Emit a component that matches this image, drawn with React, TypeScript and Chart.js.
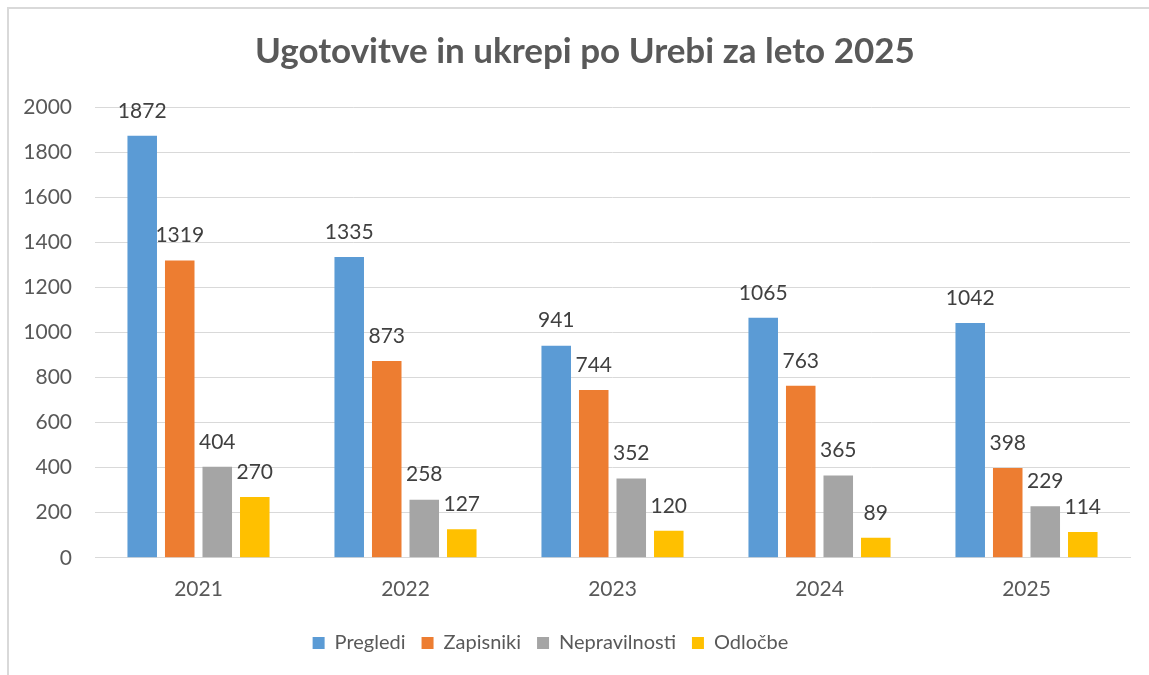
import React, { useEffect, useRef } from "react";
import { Chart, registerables } from "chart.js";

Chart.register(...registerables);

const TITLE = "Ugotovitve in ukrepi po Urebi za leto 2025";
const categories = ["2021", "2022", "2023", "2024", "2025"];
const seriesNames = ["Pregledi", "Zapisniki", "Nepravilnosti", "Odločbe"];
const pregledi = [1872, 1335, 941, 1065, 1042];
const zapisniki = [1319, 873, 744, 763, 398];
const nepravilnosti = [404, 258, 352, 365, 229];
const odlocbe = [270, 127, 120, 89, 114];
const colors = ["#5B9BD5", "#ED7D31", "#A5A5A5", "#FFC000"];
const yTicks = { min: 0, max: 2000, step: 200 };

const FONT = "Lato, 'Open Sans', sans-serif";
const CW = 1156;
const CH = 700;

const borderPlugin = {
  id: "frame",
  beforeDraw(chart: any) {
    const ctx = chart.ctx;
    ctx.save();
    ctx.fillStyle = "#FFFFFF";
    ctx.fillRect(0, 0, chart.width, chart.height);
    ctx.strokeStyle = "#D9D9D9";
    ctx.lineWidth = 2;
    ctx.strokeRect(1, 1, chart.width + 20, chart.height + 20);
    ctx.restore();
  },
};

const labelPlugin = {
  id: "valueLabels",
  afterDatasetsDraw(chart: any) {
    const ctx = chart.ctx;
    ctx.save();
    ctx.font = `21px ${FONT}`;
    ctx.fillStyle = "#404040";
    ctx.textAlign = "center";
    ctx.textBaseline = "middle";
    chart.data.datasets.forEach((ds: any, i: number) => {
      const meta = chart.getDatasetMeta(i);
      meta.data.forEach((el: any, j: number) => {
        ctx.fillText(String(ds.data[j]), el.x, el.y - 25);
      });
    });
    ctx.restore();
  },
};

const boxShift = {
  id: "boxShift",
  afterLayout(chart: any) {
    const lg = chart.legend;
    if (lg) {
      lg.left -= 18;
      lg.right -= 18;
      lg.top += 4;
      lg.bottom += 4;
    }
    const tb = chart.titleBlock;
    if (tb) {
      tb.left += 16.5;
      tb.right += 16.5;
    }
  },
};

export default function App() {
  const ref = useRef<HTMLCanvasElement>(null);
  useEffect(() => {
    if (!ref.current) return;
    const seriesData = [pregledi, zapisniki, nepravilnosti, odlocbe];
    const chart = new Chart(ref.current, {
      type: "bar",
      data: {
        labels: categories,
        datasets: seriesNames.map((name, i) => ({
          label: name,
          data: seriesData[i],
          backgroundColor: colors[i],
          borderWidth: 0,
          categoryPercentage: 0.725,
          barPercentage: 0.787,
        })),
      },
      options: {
        responsive: false,
        animation: false,
        layout: { padding: { left: 0, right: 33, top: 0, bottom: 48 } },
        plugins: {
          title: {
            display: true,
            text: TITLE,
            color: "#595959",
            font: { family: FONT, size: 35, weight: "bold", lineHeight: 1.2 },
            padding: { top: 24, bottom: 34 },
          },
          legend: {
            position: "bottom",
            labels: {
              color: "#595959",
              font: { family: FONT, size: 20 },
              boxWidth: 12,
              boxHeight: 12,
              padding: 16,
            },
          },
          tooltip: { enabled: false },
        },
        scales: {
          x: {
            grid: { display: false },
            border: { display: true, color: "#D9D9D9", width: 1 },
            ticks: {
              color: "#595959",
              font: { family: FONT, size: 21 },
              padding: 11,
            },
          },
          y: {
            min: yTicks.min,
            max: yTicks.max,
            grid: { color: "#D9D9D9", lineWidth: 1, drawTicks: false },
            border: { display: false },
            ticks: {
              stepSize: yTicks.step,
              color: "#595959",
              font: { family: FONT, size: 21 },
              padding: 23,
              callback: (v: any) => String(v),
            },
            afterFit(scale: any) {
              scale.width = 88;
            },
          },
        },
      },
      plugins: [borderPlugin, labelPlugin, boxShift],
    });
    return () => chart.destroy();
  }, []);

  return (
    <div
      style={{
        position: "fixed",
        left: 0,
        top: 0,
        width: 1149,
        height: 675,
        overflow: "hidden",
        background: "#fff",
      }}
    >
      <canvas
        ref={ref}
        width={CW}
        height={CH}
        style={{ position: "absolute", left: 7, top: 7, width: CW, height: CH }}
      />
    </div>
  );
}
